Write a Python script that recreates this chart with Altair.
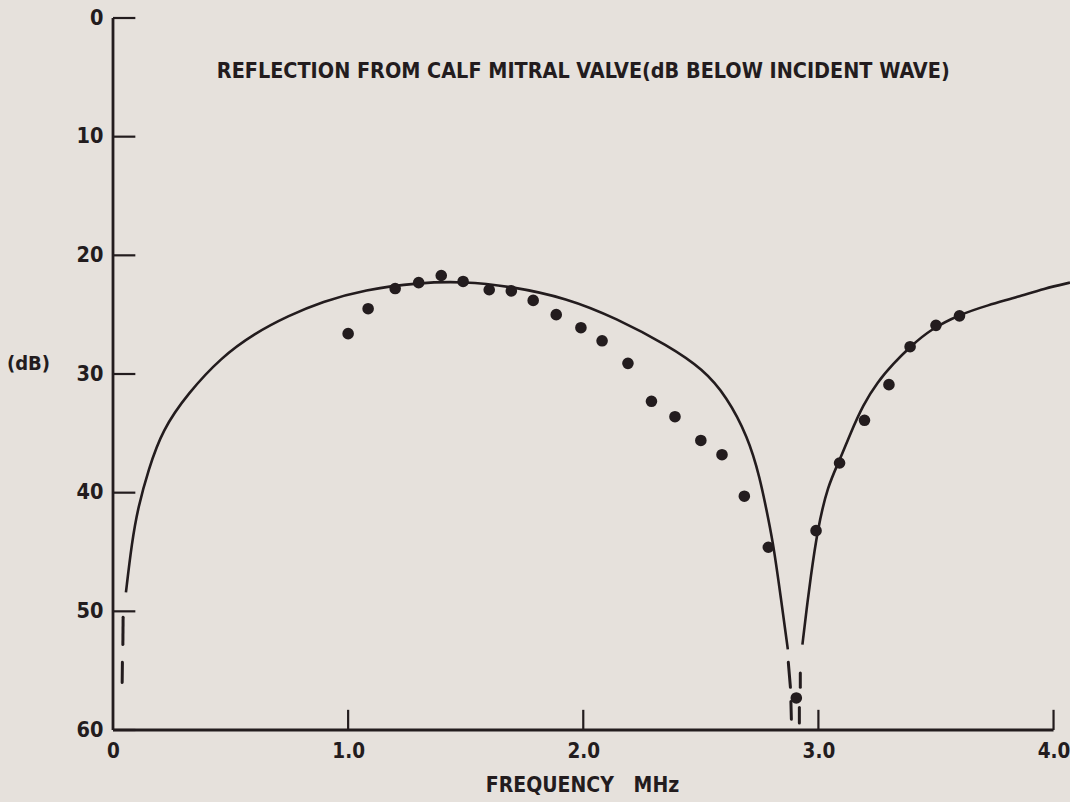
import altair as alt
import pandas as pd

# ---- data ----
dot_x = [1.00, 1.085, 1.20, 1.30, 1.396, 1.489, 1.60, 1.694, 1.787, 1.885, 1.99, 2.08, 2.19, 2.29,
         2.39, 2.50, 2.59, 2.685, 2.787, 2.906, 2.99, 3.09, 3.196, 3.30, 3.39, 3.50, 3.60]
dot_y = [26.6, 24.5, 22.8, 22.3, 21.7, 22.2, 22.9, 23.0, 23.8, 25.0, 26.1, 27.2, 29.1, 32.3,
         33.6, 35.6, 36.8, 40.3, 44.6, 57.3, 43.2, 37.5, 33.9, 30.9, 27.7, 25.9, 25.1]

left_x = [0.055, 0.08, 0.107, 0.15, 0.21, 0.32, 0.46, 0.60, 0.745, 0.89, 1.07, 1.30, 1.49, 1.69,
          1.93, 2.14, 2.36, 2.51, 2.61, 2.70, 2.75, 2.79, 2.81, 2.84, 2.87]
left_y = [48.4, 44.2, 41.2, 38.1, 34.7, 31.6, 28.6, 26.6, 25.1, 23.9, 22.9, 22.3, 22.2, 22.6,
          23.6, 25.3, 27.6, 29.6, 31.9, 35.3, 38.6, 42.5, 44.6, 48.8, 53.2]

right_x = [2.932, 2.95, 2.966, 2.996, 3.04, 3.09, 3.136, 3.19, 3.25, 3.32, 3.39, 3.48, 3.60,
           3.72, 3.85, 3.96, 4.07]
right_y = [52.8, 49.8, 47.3, 43.1, 39.4, 37.3, 35.0, 32.6, 30.7, 29.1, 27.7, 26.2, 25.0,
           24.2, 23.5, 22.8, 22.3]

dash_seg = ["a", "a", "b", "b", "c", "c", "d", "d", "e", "e", "f", "f"]
dash_x = [0.043, 0.042, 0.040, 0.039, 2.872, 2.881, 2.883, 2.885, 2.923, 2.923, 2.919, 2.919]
dash_y = [50.5, 52.8, 54.3, 56.0, 54.3, 56.4, 57.6, 59.1, 55.2, 56.4, 58.1, 59.4]

y_tick_values = [0, 10, 20, 30, 40, 50, 60]
x_tick_values = [1.0, 2.0, 3.0, 4.0]
x_label_values = [0, 1.0, 2.0, 3.0, 4.0]

title_text = "REFLECTION FROM CALF MITRAL VALVE(dB BELOW INCIDENT WAVE)"
title_pos = (2.0, 4.55)

INK = "#231c1e"
BG = "#e6e1dc"
FONT = "Liberation Sans Narrow, DejaVu Sans Condensed, Liberation Sans, sans-serif"

xs = alt.Scale(domain=[0, 4.07], nice=False, zero=False)
ys = alt.Scale(domain=[0, 60], reverse=True, nice=False, zero=False)

x_axis = alt.Axis(values=x_label_values, labelExpr="datum.value == 0 ? '0' : format(datum.value, '.1f')",
                  domain=False, ticks=False, grid=False, labelPadding=11,
                  labelFont=FONT, labelFontSize=20.5, labelFontWeight="bold", labelColor=INK,
                  labelFlush=False, labelBound=False,
                  title="FREQUENCY\u00a0\u00a0\u00a0MHz", titleFont=FONT, titleFontSize=21,
                  titleFontWeight="bold",
                  titleColor=INK, titleX=469, titleY=55, titleBaseline="middle", titleAnchor="start",
                  titleAlign="center")
y_axis = alt.Axis(values=y_tick_values, domain=False, ticks=False, grid=False, labelPadding=10,
                  labelFont=FONT, labelFontSize=21.5, labelFontWeight="bold", labelColor=INK,
                  labelBaseline="middle",
                  title="(dB)", titleFont=FONT, titleFontSize=20, titleFontWeight="bold",
                  titleColor=INK, titleAngle=0, titleX=-85, titleY=345, titleAlign="center",
                  titleBaseline="middle")

X = alt.X("x:Q", scale=xs, axis=x_axis)
Y = alt.Y("y:Q", scale=ys, axis=y_axis)

# axis lines
yaxis_line = alt.Chart(pd.DataFrame({"x": [0.0], "y": [0.0], "y2": [60.0]})).mark_rule(
    color=INK, strokeWidth=2.8).encode(x=X, y=Y, y2="y2:Q")
xaxis_line = alt.Chart(pd.DataFrame({"x": [0.0], "x2": [4.0], "y": [60.0]})).mark_rule(
    color=INK, strokeWidth=2.8).encode(x=X, x2="x2:Q", y=Y)

ytk = pd.DataFrame({"x": [0.0] * len(y_tick_values), "x2": [0.095] * len(y_tick_values),
                    "y": y_tick_values})
y_ticks = alt.Chart(ytk).mark_rule(color=INK, strokeWidth=2.2).encode(x=X, x2="x2:Q", y=Y)

xtk = pd.DataFrame({"x": x_tick_values, "y": [60.0] * len(x_tick_values),
                    "y2": [58.3] * len(x_tick_values)})
x_ticks = alt.Chart(xtk).mark_rule(color=INK, strokeWidth=2.2).encode(x=X, y=Y, y2="y2:Q")

curve_df = pd.concat([
    pd.DataFrame({"x": left_x, "y": left_y, "branch": "left"}),
    pd.DataFrame({"x": right_x, "y": right_y, "branch": "right"}),
])
curve = alt.Chart(curve_df).mark_line(color=INK, strokeWidth=2.6, interpolate="basis").encode(
    x=X, y=Y, detail="branch:N")

dash_df = pd.DataFrame({"x": dash_x, "y": dash_y, "seg": dash_seg})
dashes = alt.Chart(dash_df).mark_line(color=INK, strokeWidth=3.0, strokeCap="round").encode(
    x=X, y=Y, detail="seg:N")

dots = alt.Chart(pd.DataFrame({"x": dot_x, "y": dot_y})).mark_circle(
    color=INK, size=135, opacity=1).encode(x=X, y=Y)

title = alt.Chart(pd.DataFrame({"x": [title_pos[0]], "y": [title_pos[1]], "t": [title_text]})).mark_text(
    font=FONT, fontSize=21.4, fontWeight="bold", color=INK, align="center", baseline="middle").encode(
    x=X, y=Y, text="t:N")

chart = alt.layer(yaxis_line, xaxis_line, y_ticks, x_ticks, curve, dashes, dots, title).properties(
    width=957, height=712,
    autosize=alt.AutoSizeParams(type="none"),
    padding={"left": 113, "top": 18, "right": 0, "bottom": 72},
    background=BG,
).configure_view(stroke=None)

chart.save("out.html", embed_options={"renderer": "svg", "actions": False})
